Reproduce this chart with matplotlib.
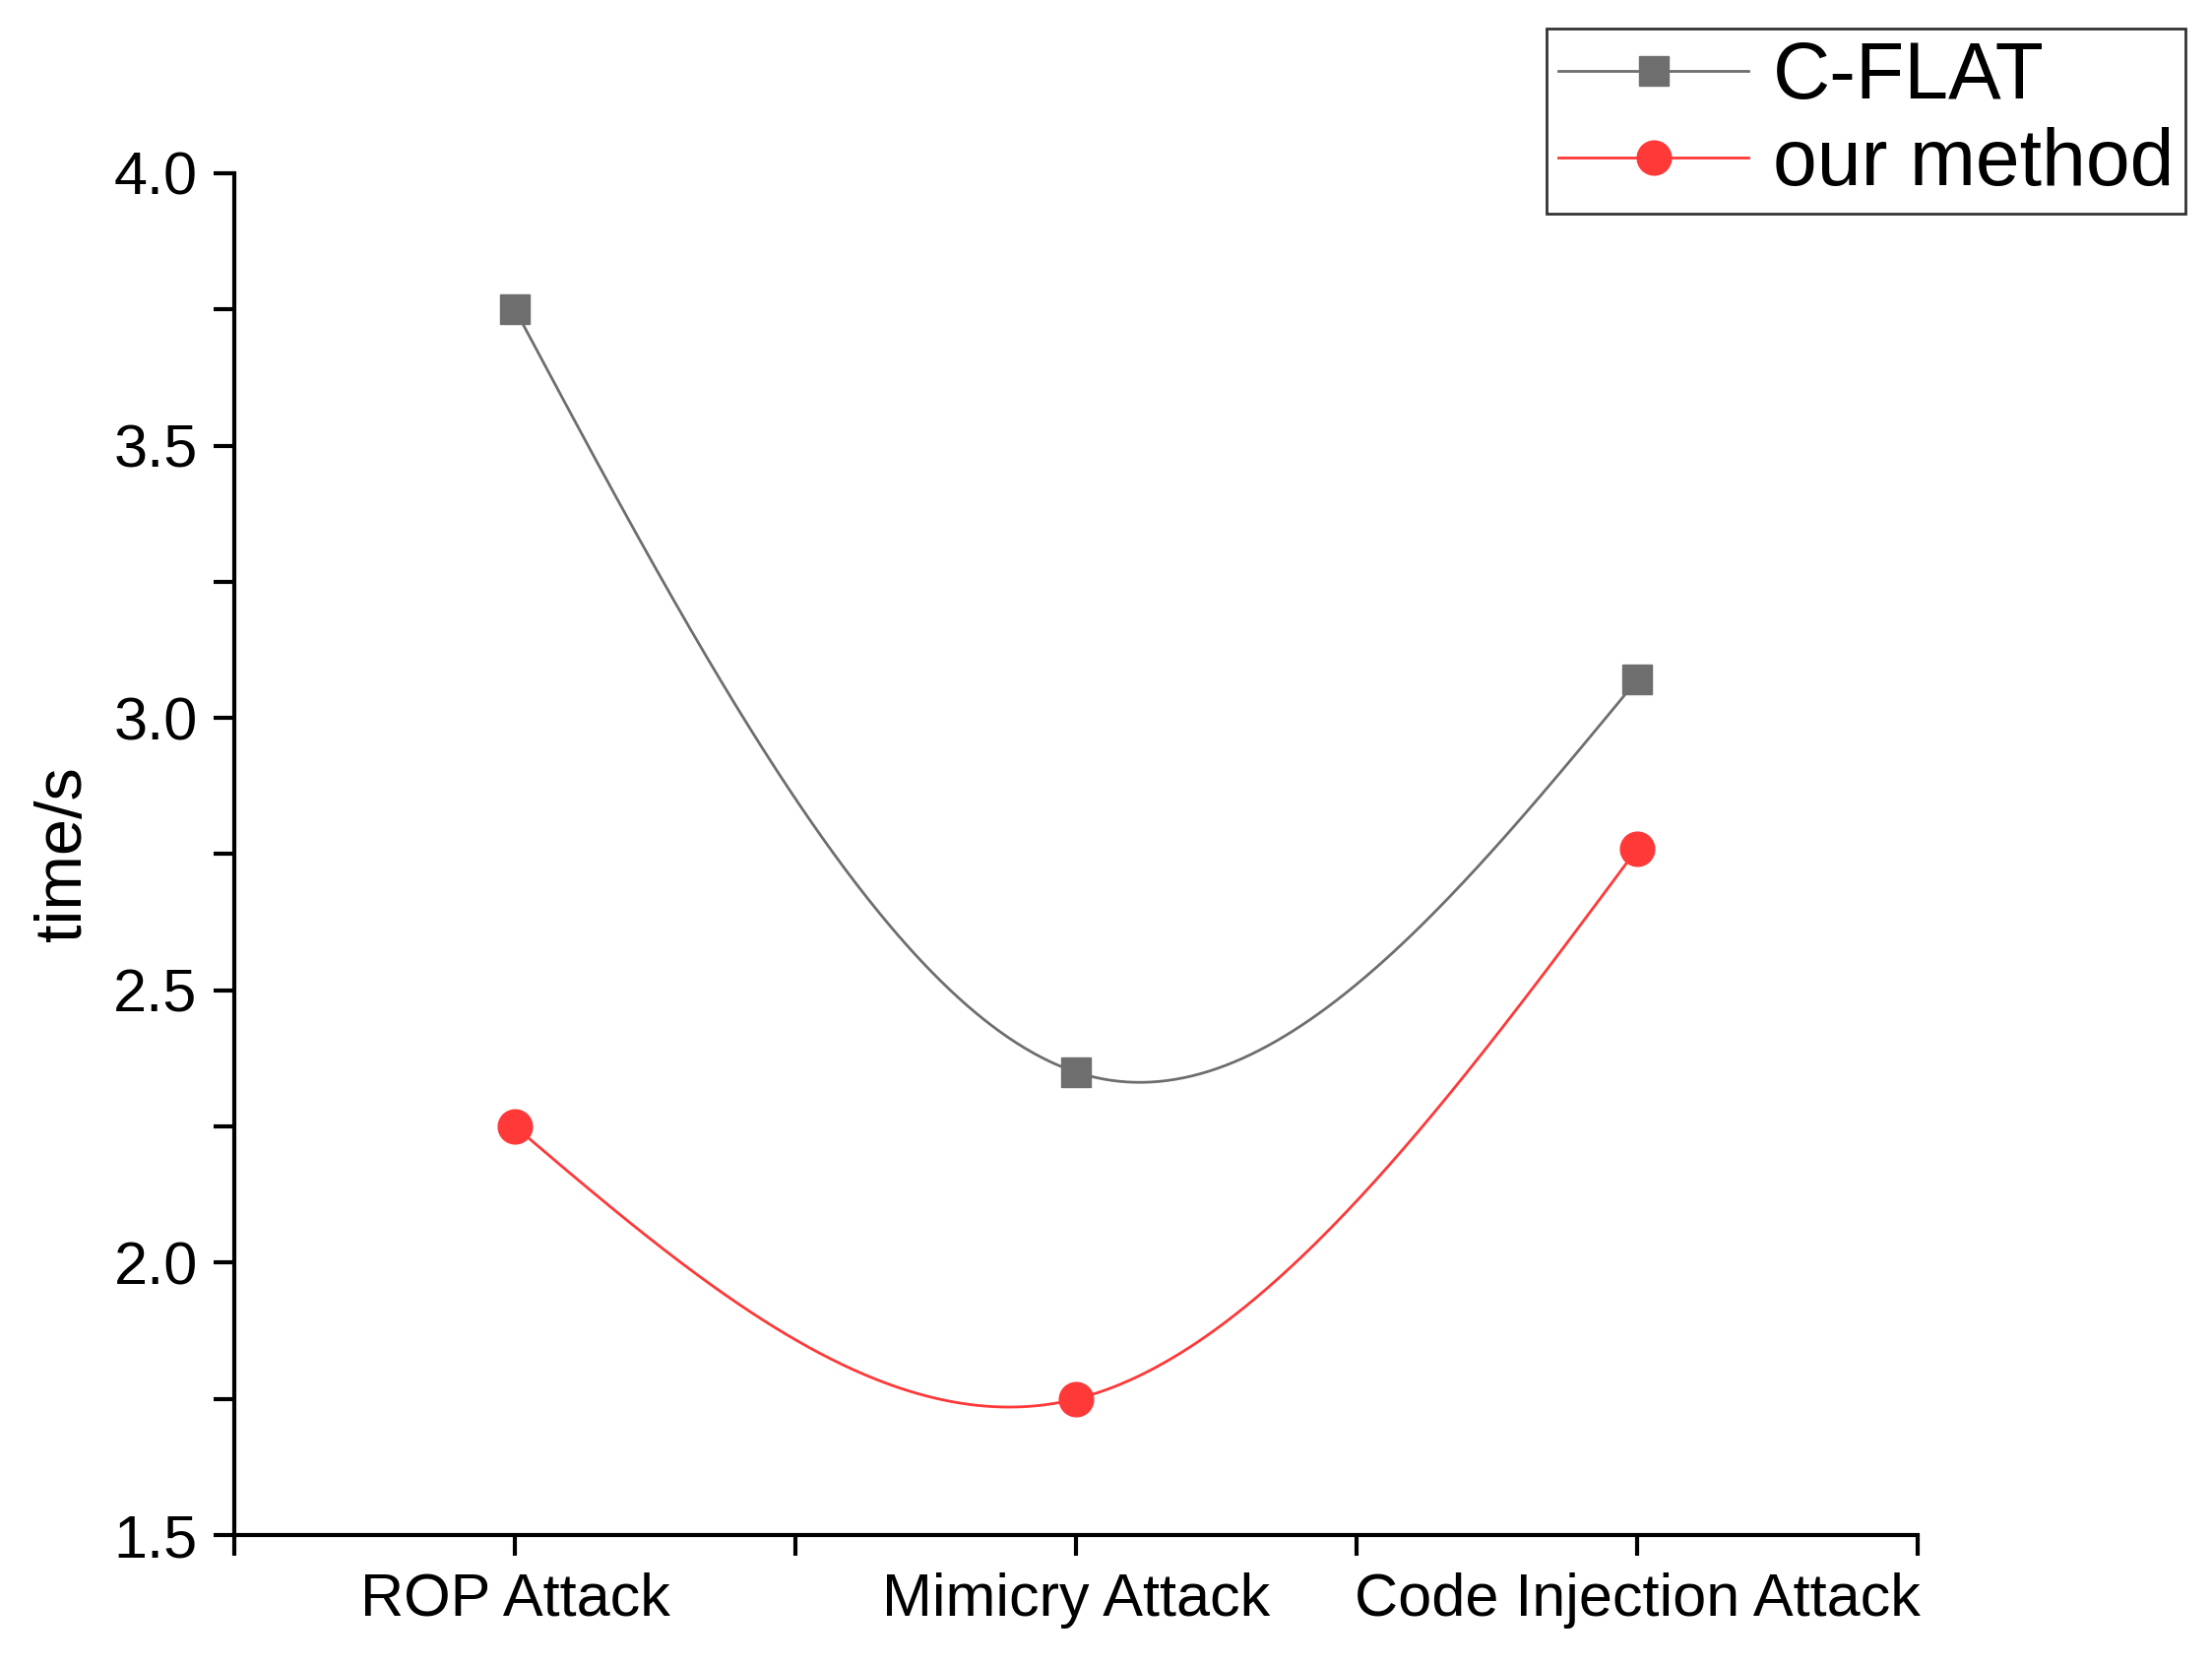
import numpy as np
import matplotlib.pyplot as plt

plt.rcParams['font.family'] = ['Liberation Sans', 'DejaVu Sans']

categories = ['ROP Attack', 'Mimicry Attack', 'Code Injection Attack']
cflat = [3.75, 2.35, 3.07]
ours = [2.25, 1.75, 2.76]


def natural_spline(y, n=200):
    # natural cubic spline through three equally spaced points x=1,2,3
    y0, y1, y2 = y
    m1 = 1.5 * (y0 - 2 * y1 + y2)
    xa = np.linspace(1, 2, n)
    sa = m1 * (xa - 1) ** 3 / 6 + y0 * (2 - xa) + (y1 - m1 / 6) * (xa - 1)
    xb = np.linspace(2, 3, n)
    sb = m1 * (3 - xb) ** 3 / 6 + (y1 - m1 / 6) * (3 - xb) + y2 * (xb - 2)
    return np.concatenate([xa, xb]), np.concatenate([sa, sb])


gray = '#6e6e6e'
red = '#ff3838'

fig = plt.figure(figsize=(22.47, 16.91), dpi=100)
ax = fig.add_axes([0.106, 0.078, 0.761, 0.818])
x = np.arange(1, len(categories) + 1)

xs, ys = natural_spline(cflat)
ax.plot(xs, ys, color=gray, lw=2)
ax.plot(x, cflat, 's', color=gray, ms=22, ls='none')
xs, ys = natural_spline(ours)
ax.plot(xs, ys, color=red, lw=2)
ax.plot(x, ours, 'o', color=red, ms=25, ls='none')

# legend handles
h1, = ax.plot([], [], 's-', color=gray, ms=22, lw=2, label='C-FLAT')
h2, = ax.plot([], [], 'o-', color=red, ms=25, lw=2, label='our method')
leg = fig.legend(handles=[h1, h2], loc='upper right', bbox_to_anchor=(0.988, 0.983),
                 fontsize=58, frameon=True, fancybox=False, edgecolor='black',
                 handlelength=2.4, borderpad=0.15, labelspacing=0.15, handletextpad=0.3,
                 borderaxespad=0)
leg.get_frame().set_linewidth(2)

ax.set_xlim(0.5, 3.5)
ax.set_ylim(1.5, 4.0)
ax.set_xticks(x)
ax.set_xticklabels(categories)
ax.set_xticks([0.5, 1.5, 2.5, 3.5], minor=True)
ax.set_yticks([1.5, 2.0, 2.5, 3.0, 3.5, 4.0])
ax.set_yticks(np.arange(1.75, 4.0, 0.5), minor=True)
ax.set_ylabel('time/s', fontsize=48, labelpad=14)

for s in ['top', 'right']:
    ax.spines[s].set_visible(False)
for s in ['left', 'bottom']:
    ax.spines[s].set_linewidth(3)
ax.tick_params(which='both', direction='out', length=15, width=3, labelsize=44, pad=12)

fig.savefig('out.png', dpi=100)
